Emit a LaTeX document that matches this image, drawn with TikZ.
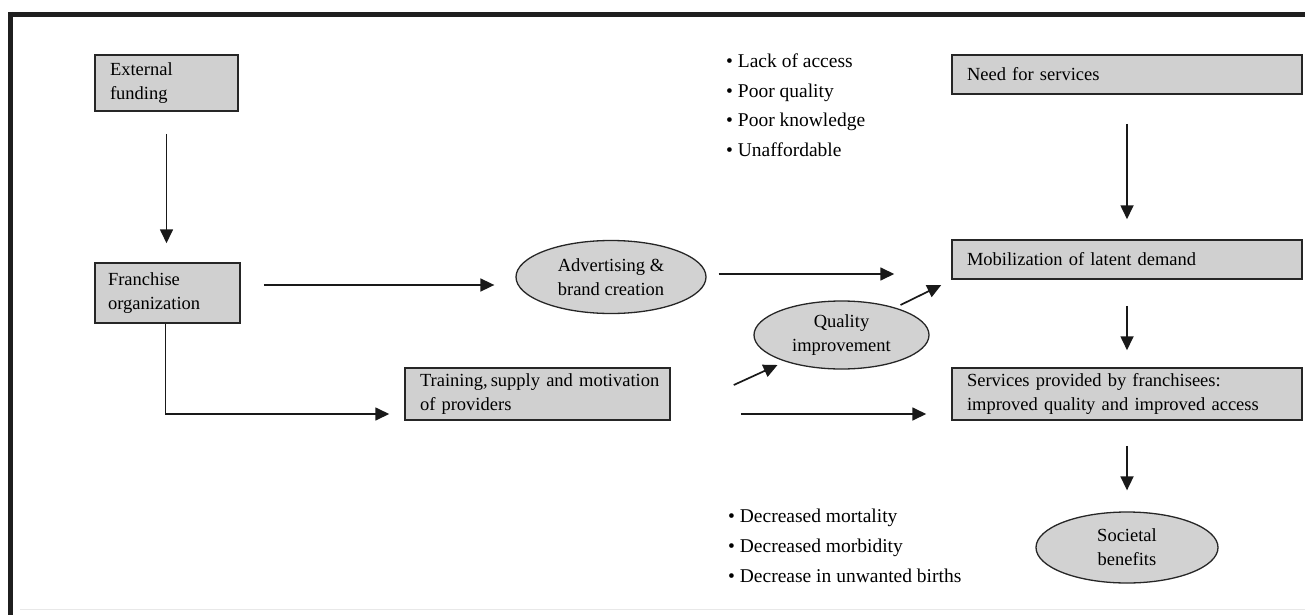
\documentclass[tikz,border=0pt]{standalone}
\usepackage{fontspec}
\setmainfont{Liberation Serif}
\usetikzlibrary{shapes.geometric,arrows.meta,calc}
\definecolor{boxgray}{RGB}{208,208,208}
\definecolor{ellgray}{RGB}{210,210,210}
\tikzset{
  bx/.style={draw=black!85, line width=1.5pt, fill=boxgray, rectangle, inner xsep=15pt, inner ysep=0pt, align=left, font=\fontsize{18.5}{24}\selectfont},
  el/.style={draw=black!85, line width=1.3pt, fill=ellgray, ellipse, inner sep=0pt, align=center, font=\fontsize{18.5}{24}\selectfont},
  bl/.style={anchor=west, inner sep=0pt, text height=13pt, text depth=4pt, font=\fontsize{19.5}{22}\selectfont},
  arr/.style={line width=1.7pt, black!90, -{Triangle[length=14pt,width=13pt]}},
  frameline/.style={line width=5pt, black!88}
}
\begin{document}
\begin{tikzpicture}[x=1pt,y=-1pt]
\useasboundingbox (0,0) rectangle (1305,615);
% frame
\draw[frameline] (8,14.5) -- (1305,14.5);
\draw[frameline] (10.5,12) -- (10.5,615);
\draw[gray!18, line width=1pt] (20,609) -- (1305,609);

% nodes
\node[bx, text width=113pt, minimum height=56pt] (ext) at (166.5,83) {External\\funding};
\node[bx, text width=119pt, minimum height=60pt, inner xsep=13pt] (fr) at (167.5,293) {Franchise\\organization};
\node[el, minimum width=190pt, minimum height=73pt] (adv) at (611,277) {Advertising \&\\brand creation};
\node[bx, text width=320pt, minimum height=39pt] (need) at (1127,74.5) {Need for services};
\node[bx, text width=320pt, minimum height=39pt] (mob) at (1127,259.5) {Mobilization of latent demand};
\node[bx, text width=320pt, minimum height=52pt] (srv) at (1127,394) {Services provided by franchisees:\\improved quality and improved access};
\node[bx, text width=235pt, minimum height=52pt] (tr) at (537.5,394) {\mbox{Training,\,supply and motivation}\\of providers};
\node[el, minimum width=175pt, minimum height=68pt] (qual) at (841.5,335) {Quality\\improvement};
\node[el, minimum width=182pt, minimum height=71pt] (soc) at (1127,547.5) {Societal\\benefits};

% bullet lists
\node[bl] (b1) at (726,63) {• Lack of access};
\node[bl] (b2) at (726,93) {• Poor quality};
\node[bl] (b3) at (726,122) {• Poor knowledge};
\node[bl] (b4) at (726,152) {• Unaffordable};
\node[bl] (d1) at (728,518) {• Decreased mortality};
\node[bl] (d2) at (728,548) {• Decreased morbidity};
\node[bl] (d3) at (728,578) {• Decrease in unwanted births};

% connectors
\draw[arr, shorten <=22pt, shorten >=19pt] (ext.south) -- (ext.south |- fr.north);
\draw[arr] ($(fr.east)+(23,-8)$) -- ($(adv.west)+(-21,8)$);
\draw[arr] ($(adv.east)+(12,-3)$) -- ($(mob.west)+(-57,14.5)$);
\draw[arr, shorten <=29pt, shorten >=20pt] (need.south) -- (mob.north);
\draw[arr, shorten <=26pt, shorten >=17pt] (mob.south) -- (srv.north);
\draw[arr, shorten <=25pt, shorten >=21pt] (srv.south) -- (soc.north);
\draw[arr] ($(fr.south)+(-2,0)$) |- ($(tr.west)+(-15,20)$);
\draw[arr] ($(tr.east)+(70,20)$) -- ($(srv.west)+(-25,20)$);
\draw[arr] ($(tr.east)+(63,-9)$) -- ($(qual.center)+(-64,30)$);
\draw[arr] ($(qual.center)+(59,-30)$) -- ($(mob.west)+(-10,25.5)$);
\end{tikzpicture}
\end{document}
